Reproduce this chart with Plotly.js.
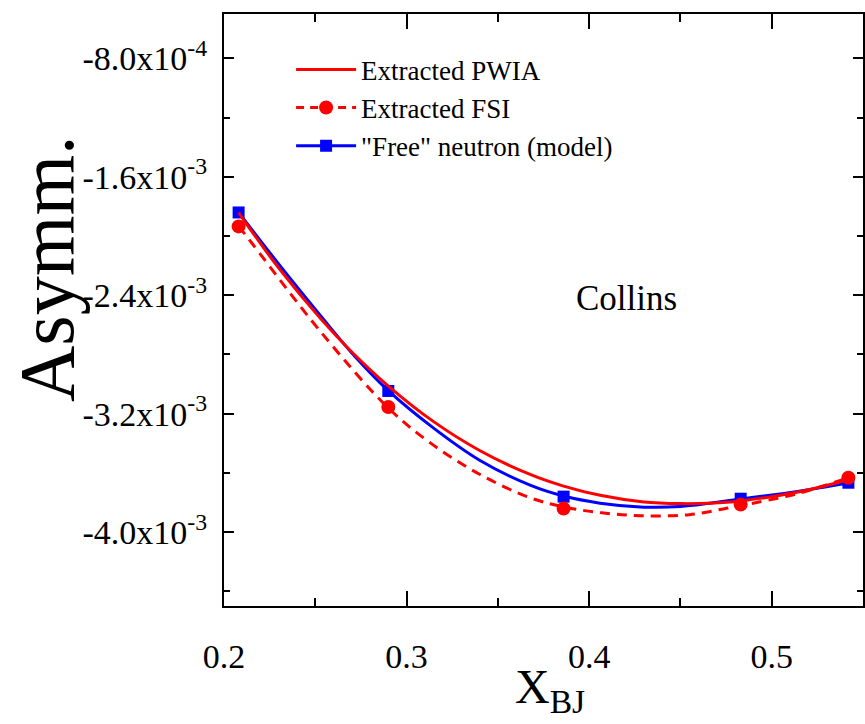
<!DOCTYPE html>
<html>
<head>
<meta charset="utf-8">
<script src="https://cdn.plot.ly/plotly-3.0.1.min.js"></script>
<style>html,body{margin:0;padding:0;background:#fff;}#chart{width:865px;height:724px;}</style>
</head>
<body>
<div id="chart"></div>
<script>
// Data points (x_BJ)
const xPoints = [0.208, 0.290, 0.386, 0.483, 0.542];
const freeNeutronY = [-1.841e-3, -3.047e-3, -3.761e-3, -3.775e-3, -3.667e-3];
const extractedFsiY = [-1.935e-3, -3.155e-3, -3.842e-3, -3.815e-3, -3.633e-3];

// Curves
const pwiaX = [0.208, 0.212, 0.230, 0.253, 0.270, 0.290, 0.315, 0.340, 0.368, 0.386, 0.406, 0.430, 0.450, 0.466, 0.483, 0.515, 0.542];
const pwiaY = [-1.841e-3, -1.913e-3, -2.217e-3, -2.560e-3, -2.784e-3, -3.014e-3, -3.256e-3, -3.449e-3, -3.613e-3, -3.690e-3, -3.752e-3, -3.797e-3, -3.808e-3, -3.805e-3, -3.790e-3, -3.728e-3, -3.647e-3];

const freeLineX = [0.208, 0.212, 0.230, 0.253, 0.270, 0.290, 0.315, 0.340, 0.368, 0.386, 0.406, 0.430, 0.450, 0.466, 0.483, 0.515, 0.542];
const freeLineY = [-1.841e-3, -1.905e-3, -2.190e-3, -2.540e-3, -2.790e-3, -3.045e-3, -3.300e-3, -3.515e-3, -3.685e-3, -3.757e-3, -3.805e-3, -3.832e-3, -3.828e-3, -3.806e-3, -3.777e-3, -3.724e-3, -3.667e-3];

const fsiLineX = [0.208, 0.212, 0.253, 0.290, 0.313, 0.340, 0.368, 0.386, 0.406, 0.428, 0.455, 0.476, 0.483, 0.515, 0.542];
const fsiLineY = [-1.935e-3, -1.996e-3, -2.648e-3, -3.162e-3, -3.398e-3, -3.610e-3, -3.770e-3, -3.830e-3, -3.869e-3, -3.890e-3, -3.883e-3, -3.838e-3, -3.822e-3, -3.738e-3, -3.633e-3];

// Axis ticks
const xTickVals = [0.2, 0.3, 0.4, 0.5];
const xTickText = ['0.2', '0.3', '0.4', '0.5'];
const xMinorVals = [0.25, 0.35, 0.45, 0.55];
const yTickVals = [-0.8e-3, -1.6e-3, -2.4e-3, -3.2e-3, -4.0e-3];
const yTickText = ['-8.0x10<sup>-4</sup>', '-1.6x10<sup>-3</sup>', '-2.4x10<sup>-3</sup>', '-3.2x10<sup>-3</sup>', '-4.0x10<sup>-3</sup>'];
const yMinorVals = [-1.2e-3, -2.0e-3, -2.8e-3, -3.6e-3, -4.4e-3];

const RED = '#ff0000', BLUE = '#0000ff';
const FONT = 'Liberation Serif, Times New Roman, serif';

const traces = [
  {x: freeLineX, y: freeLineY, mode: 'lines', line: {color: BLUE, width: 3, shape: 'spline'}, showlegend: false, hoverinfo: 'skip'},
  {x: xPoints, y: freeNeutronY, mode: 'markers', marker: {symbol: 'square', size: 12, color: BLUE}, showlegend: false},
  {x: fsiLineX, y: fsiLineY, mode: 'lines', line: {color: RED, width: 3, dash: '10px,7px', shape: 'spline'}, showlegend: false, hoverinfo: 'skip'},
  {x: pwiaX, y: pwiaY, mode: 'lines', name: 'Extracted PWIA', line: {color: RED, width: 3, shape: 'spline'}},
  {x: xPoints, y: extractedFsiY, mode: 'markers', marker: {symbol: 'circle', size: 14, color: RED}, showlegend: false},
  // legend entries
  {x: [null], y: [null], mode: 'lines+markers', name: 'Extracted FSI', line: {color: RED, width: 3, dash: '8px,6px'}, marker: {symbol: 'circle', size: 14, color: RED}},
  {x: [null], y: [null], mode: 'lines+markers', name: '"Free" neutron (model)', line: {color: BLUE, width: 3}, marker: {symbol: 'square', size: 12, color: BLUE}}
];

const layout = {
  width: 865, height: 724,
  margin: {l: 224, r: 2, t: 14, b: 118},
  paper_bgcolor: '#fff', plot_bgcolor: '#fff',
  font: {family: FONT, color: '#000'},
  showlegend: true,
  legend: {x: 0.105, y: 0.947, xanchor: 'left', yanchor: 'top', bgcolor: 'rgba(0,0,0,0)',
           font: {family: FONT, size: 27, color: '#000'}, itemwidth: 60, tracegroupgap: 0},
  xaxis: {
    range: [0.2, 0.55], tickmode: 'array', tickvals: xTickVals, ticktext: xTickText,
    ticks: 'inside', ticklen: 15, tickwidth: 2, tickcolor: '#000',
    showline: true, linewidth: 2, linecolor: '#000', mirror: 'allticks',
    showgrid: false, zeroline: false, automargin: false,
    tickfont: {family: FONT, size: 34, color: '#000'}, ticklabelstandoff: 19,
    minor: {tickmode: 'array', tickvals: xMinorVals, ticks: 'inside', ticklen: 8, tickwidth: 2, tickcolor: '#000', showgrid: false}
  },
  yaxis: {
    range: [-4.5e-3, -0.5e-3], tickmode: 'array', tickvals: yTickVals, ticktext: yTickText,
    ticks: 'inside', ticklen: 10, tickwidth: 2, tickcolor: '#000',
    showline: true, linewidth: 2, linecolor: '#000', mirror: 'allticks',
    showgrid: false, zeroline: false, automargin: false,
    tickfont: {family: FONT, size: 34, color: '#000'}, ticklabelstandoff: 8,
    minor: {tickmode: 'array', tickvals: yMinorVals, ticks: 'inside', ticklen: 6, tickwidth: 2, tickcolor: '#000', showgrid: false}
  },
  annotations: [
    {text: 'Collins', x: 0.4205, y: -2.42e-3, xref: 'x', yref: 'y', showarrow: false,
     font: {family: FONT, size: 35, color: '#000'}},
    {text: 'Asymm.', x: -0.277, y: 0.571, xref: 'paper', yref: 'paper', textangle: -90,
     xanchor: 'center', yanchor: 'middle', showarrow: false,
     font: {family: FONT, size: 78, color: '#000'}},
    {text: 'X<sub>BJ</sub>', x: 0.51, y: -0.142, xref: 'paper', yref: 'paper',
     xanchor: 'center', yanchor: 'middle', showarrow: false,
     font: {family: FONT, size: 48, color: '#000'}}
  ]
};

Plotly.newPlot('chart', traces, layout, {displayModeBar: false, staticPlot: true});
</script>
</body>
</html>
